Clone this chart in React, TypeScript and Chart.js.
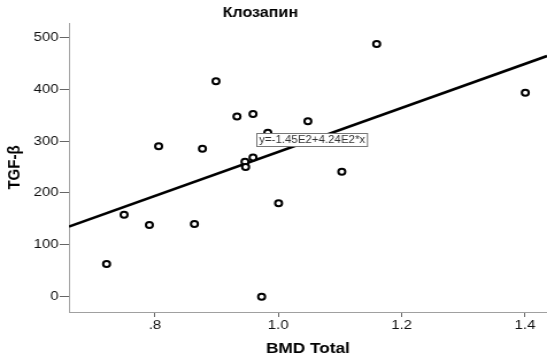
import React, { useEffect, useRef } from "react";
import { Chart, registerables } from "chart.js";

Chart.register(...registerables);

// ---- data ----
const TITLE = "Клозапин";
const X_TITLE = "BMD Total";
const Y_TITLE = "TGF-β";
const BMD_TOTAL = [0.7216, 0.75, 0.791, 0.806, 0.864, 0.877, 0.899, 0.933, 0.959, 0.946, 0.947, 0.959, 0.983, 0.973, 1.0005, 1.048, 1.103, 1.1595, 1.4005];
const TGF_BETA = [63, 158, 138, 290, 140, 285, 415, 347, 352, 260, 250, 268, 316, 0, 180, 338, 241, 487, 393];
const X_TICKS = [0.8, 1.0, 1.2, 1.4];
const X_TICK_LABELS = [".8", "1.0", "1.2", "1.4"];
const Y_TICKS = [0, 100, 200, 300, 400, 500];
const Y_TICK_LABELS = ["0", "100", "200", "300", "400", "500"];
const FIT_INTERCEPT = -145;
const FIT_SLOPE = 424;
const FIT_LABEL = "y=-1.45E2+4.24E2*x";

// ---- layout (not data) ----
const X_MIN = 0.6606;
const X_MAX = 1.4357;
const Y_MIN = -29.5;
const Y_MAX = 527.4;
const BUF_W = 476;
const BUF_H = 364;
const FONT = '"Liberation Sans", Arial, Helvetica, sans-serif';
const LABEL_ANCHOR = { x: 0.9638, y: 303 };

const annotPlugin = {
  id: "annot",
  afterDraw(chart: any) {
    const ctx = chart.ctx;
    ctx.save();
    ctx.font = `bold 14px ${FONT}`;
    ctx.fillStyle = "#000";
    ctx.textAlign = "center";
    ctx.textBaseline = "middle";
    ctx.fillText(TITLE, 226.5, 13.5);

    const xs = chart.scales.x;
    const ys = chart.scales.y;
    const left = Math.round(xs.getPixelForValue(LABEL_ANCHOR.x)) + 0.5;
    const cy = ys.getPixelForValue(LABEL_ANCHOR.y);
    ctx.font = `10px ${FONT}`;
    const w = ctx.measureText(FIT_LABEL).width;
    const top = Math.round(cy - 6.5) + 0.5;
    ctx.fillStyle = "#fff";
    ctx.fillRect(left, top, w + 4, 13);
    ctx.strokeStyle = "#777";
    ctx.lineWidth = 1;
    ctx.strokeRect(left, top, w + 4, 13);
    ctx.fillStyle = "#333";
    ctx.textAlign = "left";
    ctx.fillText(FIT_LABEL, left + 2, cy + 0.5);
    ctx.restore();
  },
};

export default function App() {
  const ref = useRef<HTMLCanvasElement>(null);
  useEffect(() => {
    if (!ref.current) return;
    const points = BMD_TOTAL.map((x, i) => ({ x, y: TGF_BETA[i] }));
    const fit = [
      { x: X_MIN, y: FIT_INTERCEPT + FIT_SLOPE * X_MIN },
      { x: X_MAX, y: FIT_INTERCEPT + FIT_SLOPE * X_MAX },
    ];
    const chart = new Chart(ref.current, {
      type: "scatter",
      data: {
        datasets: [
          {
            type: "scatter",
            data: points,
            pointRadius: 3,
            pointBorderWidth: 2,
            borderColor: "#000",
            backgroundColor: "#fff",
            pointStyle: "circle",
            order: 0,
          } as any,
          {
            type: "line",
            data: fit,
            borderColor: "#000",
            borderWidth: 2.6,
            pointRadius: 0,
            fill: false,
            order: 1,
          } as any,
        ],
      },
      plugins: [annotPlugin],
      options: {
        responsive: false,
        animation: false,
        devicePixelRatio: 1,
        layout: { autoPadding: false, padding: { top: 23, right: 0, left: 0, bottom: 0 } },
        plugins: {
          legend: { display: false },
          tooltip: { enabled: false },
          title: { display: false },
        },
        scales: {
          x: {
            type: "linear",
            min: X_MIN,
            max: X_MAX,
            afterBuildTicks: (s: any) => {
              s.ticks = X_TICKS.map((v) => ({ value: v }));
            },
            afterFit: (s: any) => {
              s.height = 52;
              s.paddingLeft = 0;
              s.paddingRight = 0;
            },
            ticks: {
              callback: (v: any) => {
                const i = X_TICKS.findIndex((t) => Math.abs(t - v) < 1e-9);
                return i >= 0 ? X_TICK_LABELS[i] : "";
              },
              font: { family: FONT, size: 13 },
              color: "#111",
              padding: 1,
              maxRotation: 0,
            },
            grid: {
              display: true,
              drawOnChartArea: false,
              drawTicks: true,
              tickLength: 5,
              color: "#666",
            },
            border: { display: true, color: "#a0a0a0", width: 1 },
            title: {
              display: true,
              text: X_TITLE,
              font: { family: FONT, size: 15, weight: "bold" },
              color: "#000",
              padding: { top: 0, bottom: 6 },
            },
          },
          y: {
            type: "linear",
            min: Y_MIN,
            max: Y_MAX,
            afterBuildTicks: (s: any) => {
              s.ticks = Y_TICKS.map((v) => ({ value: v }));
            },
            afterFit: (s: any) => {
              s.width = 60;
              s.paddingTop = 0;
              s.paddingBottom = 0;
            },
            ticks: {
              callback: (v: any) => {
                const i = Y_TICKS.indexOf(v);
                return i >= 0 ? Y_TICK_LABELS[i] : "";
              },
              font: { family: FONT, size: 13 },
              color: "#111",
              padding: 1,
            },
            grid: {
              display: true,
              drawOnChartArea: false,
              drawTicks: true,
              tickLength: 8,
              color: "#666",
            },
            border: { display: true, color: "#a0a0a0", width: 1 },
            title: {
              display: true,
              text: Y_TITLE,
              font: { family: FONT, size: 15, weight: "bold" },
              color: "#000",
              padding: { top: 4, bottom: 0 },
            },
          },
        },
      } as any,
    });
    return () => chart.destroy();
  }, []);

  return (
    <div style={{ position: "fixed", left: 0, top: 0, width: 547, height: 364, overflow: "hidden", background: "#fff" }}>
      <canvas
        ref={ref}
        width={BUF_W}
        height={BUF_H}
        style={{ width: "547px", height: "364px", display: "block" }}
      />
    </div>
  );
}
